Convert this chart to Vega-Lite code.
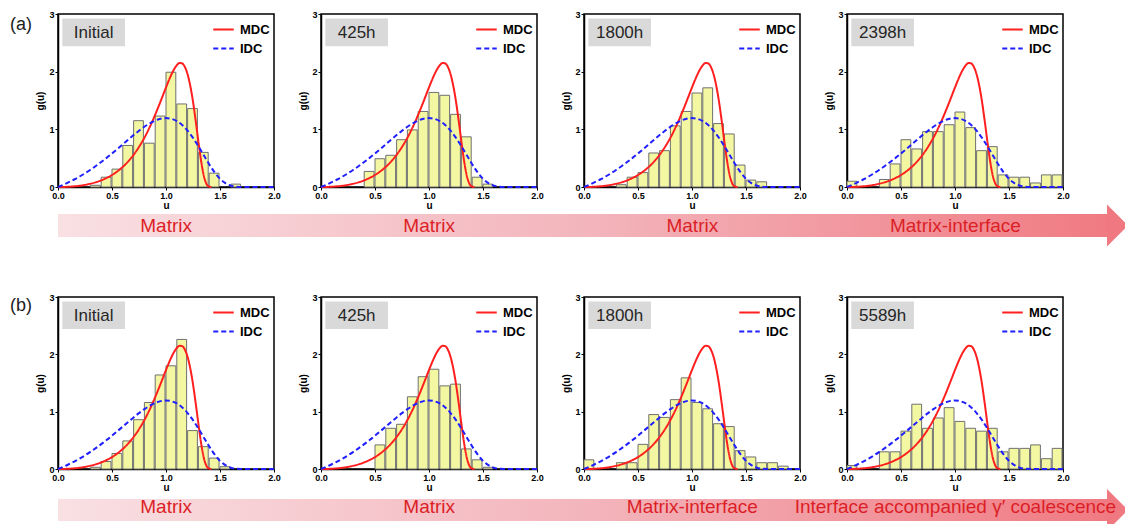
{
"$schema": "https://vega.github.io/schema/vega-lite/v6.json",
"padding": {"left": 9, "top": 9, "right": 0, "bottom": 0},
"background": "white",
"columns": 4,
"bounds": "flush",
"spacing": {"row": 110, "column": 47},
"resolve": {"scale": {"color": "independent", "strokeDash": "independent"}},
"datasets": {
"bars": [
{"p":"a1","u0":0.3,"u1":0.4,"g":0.03},{"p":"a1","u0":0.4,"u1":0.5,"g":0.17},{"p":"a1","u0":0.5,"u1":0.6,"g":0.31},{"p":"a1","u0":0.6,"u1":0.7,"g":0.72},{"p":"a1","u0":0.7,"u1":0.8,"g":1.15},{"p":"a1","u0":0.8,"u1":0.9,"g":0.76},{"p":"a1","u0":0.9,"u1":1.0,"g":1.23},{"p":"a1","u0":1.0,"u1":1.1,"g":1.99},{"p":"a1","u0":1.1,"u1":1.2,"g":1.44},{"p":"a1","u0":1.2,"u1":1.3,"g":1.36},{"p":"a1","u0":1.3,"u1":1.4,"g":0.60},{"p":"a1","u0":1.4,"u1":1.5,"g":0.24},{"p":"a1","u0":1.6,"u1":1.7,"g":0.05},
{"p":"a2","u0":0.4,"u1":0.5,"g":0.27},{"p":"a2","u0":0.5,"u1":0.6,"g":0.49},{"p":"a2","u0":0.6,"u1":0.7,"g":0.55},{"p":"a2","u0":0.7,"u1":0.8,"g":0.82},{"p":"a2","u0":0.8,"u1":0.9,"g":0.99},{"p":"a2","u0":0.9,"u1":1.0,"g":1.31},{"p":"a2","u0":1.0,"u1":1.1,"g":1.64},{"p":"a2","u0":1.1,"u1":1.2,"g":1.59},{"p":"a2","u0":1.2,"u1":1.3,"g":1.26},{"p":"a2","u0":1.3,"u1":1.4,"g":0.87},{"p":"a2","u0":1.4,"u1":1.5,"g":0.17},{"p":"a2","u0":1.5,"u1":1.6,"g":0.05},
{"p":"a3","u0":0.3,"u1":0.4,"g":0.04},{"p":"a3","u0":0.4,"u1":0.5,"g":0.17},{"p":"a3","u0":0.5,"u1":0.6,"g":0.25},{"p":"a3","u0":0.6,"u1":0.7,"g":0.59},{"p":"a3","u0":0.7,"u1":0.8,"g":0.63},{"p":"a3","u0":0.8,"u1":0.9,"g":1.06},{"p":"a3","u0":0.9,"u1":1.0,"g":1.31},{"p":"a3","u0":1.0,"u1":1.1,"g":1.63},{"p":"a3","u0":1.1,"u1":1.2,"g":1.72},{"p":"a3","u0":1.2,"u1":1.3,"g":1.10},{"p":"a3","u0":1.3,"u1":1.4,"g":0.92},{"p":"a3","u0":1.4,"u1":1.5,"g":0.38},{"p":"a3","u0":1.5,"u1":1.6,"g":0.12},{"p":"a3","u0":1.6,"u1":1.7,"g":0.09},
{"p":"a4","u0":0.0,"u1":0.1,"g":0.10},{"p":"a4","u0":0.3,"u1":0.4,"g":0.13},{"p":"a4","u0":0.4,"u1":0.5,"g":0.40},{"p":"a4","u0":0.5,"u1":0.6,"g":0.82},{"p":"a4","u0":0.6,"u1":0.7,"g":0.66},{"p":"a4","u0":0.7,"u1":0.8,"g":0.96},{"p":"a4","u0":0.8,"u1":0.9,"g":0.96},{"p":"a4","u0":0.9,"u1":1.0,"g":1.08},{"p":"a4","u0":1.0,"u1":1.1,"g":1.30},{"p":"a4","u0":1.1,"u1":1.2,"g":1.03},{"p":"a4","u0":1.2,"u1":1.3,"g":0.63},{"p":"a4","u0":1.3,"u1":1.4,"g":0.70},{"p":"a4","u0":1.4,"u1":1.5,"g":0.21},{"p":"a4","u0":1.5,"u1":1.6,"g":0.17},{"p":"a4","u0":1.6,"u1":1.7,"g":0.17},{"p":"a4","u0":1.7,"u1":1.8,"g":0.07},{"p":"a4","u0":1.8,"u1":1.9,"g":0.21},{"p":"a4","u0":1.9,"u1":2.0,"g":0.21},
{"p":"b1","u0":0.3,"u1":0.4,"g":0.03},{"p":"b1","u0":0.4,"u1":0.5,"g":0.13},{"p":"b1","u0":0.5,"u1":0.6,"g":0.27},{"p":"b1","u0":0.6,"u1":0.7,"g":0.49},{"p":"b1","u0":0.7,"u1":0.8,"g":0.86},{"p":"b1","u0":0.8,"u1":0.9,"g":1.16},{"p":"b1","u0":0.9,"u1":1.0,"g":1.64},{"p":"b1","u0":1.0,"u1":1.1,"g":1.80},{"p":"b1","u0":1.1,"u1":1.2,"g":2.26},{"p":"b1","u0":1.2,"u1":1.3,"g":0.67},{"p":"b1","u0":1.3,"u1":1.4,"g":0.39},{"p":"b1","u0":1.4,"u1":1.5,"g":0.19},{"p":"b1","u0":1.5,"u1":1.6,"g":0.04},
{"p":"b2","u0":0.5,"u1":0.6,"g":0.42},{"p":"b2","u0":0.6,"u1":0.7,"g":0.71},{"p":"b2","u0":0.7,"u1":0.8,"g":0.78},{"p":"b2","u0":0.8,"u1":0.9,"g":1.26},{"p":"b2","u0":0.9,"u1":1.0,"g":1.61},{"p":"b2","u0":1.0,"u1":1.1,"g":1.74},{"p":"b2","u0":1.1,"u1":1.2,"g":1.45},{"p":"b2","u0":1.2,"u1":1.3,"g":1.48},{"p":"b2","u0":1.3,"u1":1.4,"g":0.35},{"p":"b2","u0":1.4,"u1":1.5,"g":0.16},{"p":"b2","u0":1.5,"u1":1.6,"g":0.03},
{"p":"b3","u0":0.0,"u1":0.1,"g":0.16},{"p":"b3","u0":0.3,"u1":0.4,"g":0.11},{"p":"b3","u0":0.4,"u1":0.5,"g":0.11},{"p":"b3","u0":0.5,"u1":0.6,"g":0.43},{"p":"b3","u0":0.6,"u1":0.7,"g":0.95},{"p":"b3","u0":0.7,"u1":0.8,"g":0.90},{"p":"b3","u0":0.8,"u1":0.9,"g":1.21},{"p":"b3","u0":0.9,"u1":1.0,"g":1.59},{"p":"b3","u0":1.0,"u1":1.1,"g":1.16},{"p":"b3","u0":1.1,"u1":1.2,"g":1.05},{"p":"b3","u0":1.2,"u1":1.3,"g":0.79},{"p":"b3","u0":1.3,"u1":1.4,"g":0.74},{"p":"b3","u0":1.4,"u1":1.5,"g":0.32},{"p":"b3","u0":1.5,"u1":1.6,"g":0.21},{"p":"b3","u0":1.6,"u1":1.7,"g":0.11},{"p":"b3","u0":1.7,"u1":1.8,"g":0.11},{"p":"b3","u0":1.8,"u1":1.9,"g":0.05},
{"p":"b4","u0":0.0,"u1":0.1,"g":0.06},{"p":"b4","u0":0.3,"u1":0.4,"g":0.30},{"p":"b4","u0":0.4,"u1":0.5,"g":0.30},{"p":"b4","u0":0.5,"u1":0.6,"g":0.66},{"p":"b4","u0":0.6,"u1":0.7,"g":1.13},{"p":"b4","u0":0.7,"u1":0.8,"g":0.71},{"p":"b4","u0":0.8,"u1":0.9,"g":0.89},{"p":"b4","u0":0.9,"u1":1.0,"g":1.07},{"p":"b4","u0":1.0,"u1":1.1,"g":0.83},{"p":"b4","u0":1.1,"u1":1.2,"g":0.71},{"p":"b4","u0":1.2,"u1":1.3,"g":0.66},{"p":"b4","u0":1.3,"u1":1.4,"g":0.71},{"p":"b4","u0":1.4,"u1":1.5,"g":0.30},{"p":"b4","u0":1.5,"u1":1.6,"g":0.36},{"p":"b4","u0":1.6,"u1":1.7,"g":0.36},{"p":"b4","u0":1.7,"u1":1.8,"g":0.42},{"p":"b4","u0":1.8,"u1":1.9,"g":0.18},{"p":"b4","u0":1.9,"u1":2.0,"g":0.36}
],
"curves": [
{"curve":"MDC","u":0,"g":0},{"curve":"MDC","u":0.05,"g":0.001},{"curve":"MDC","u":0.1,"g":0.005},{"curve":"MDC","u":0.15,"g":0.012},{"curve":"MDC","u":0.2,"g":0.022},{"curve":"MDC","u":0.25,"g":0.037},{"curve":"MDC","u":0.3,"g":0.057},{"curve":"MDC","u":0.35,"g":0.082},{"curve":"MDC","u":0.4,"g":0.115},{"curve":"MDC","u":0.45,"g":0.157},{"curve":"MDC","u":0.5,"g":0.208},{"curve":"MDC","u":0.55,"g":0.272},{"curve":"MDC","u":0.6,"g":0.349},{"curve":"MDC","u":0.65,"g":0.444},{"curve":"MDC","u":0.7,"g":0.558},{"curve":"MDC","u":0.75,"g":0.694},{"curve":"MDC","u":0.8,"g":0.854},{"curve":"MDC","u":0.85,"g":1.041},{"curve":"MDC","u":0.9,"g":1.254},{"curve":"MDC","u":0.95,"g":1.486},{"curve":"MDC","u":1.0,"g":1.727},{"curve":"MDC","u":1.025,"g":1.843},{"curve":"MDC","u":1.05,"g":1.950},{"curve":"MDC","u":1.075,"g":2.042},{"curve":"MDC","u":1.1,"g":2.111},{"curve":"MDC","u":1.125,"g":2.149},{"curve":"MDC","u":1.15,"g":2.143},{"curve":"MDC","u":1.175,"g":2.081},{"curve":"MDC","u":1.2,"g":1.954},{"curve":"MDC","u":1.225,"g":1.752},{"curve":"MDC","u":1.25,"g":1.481},{"curve":"MDC","u":1.275,"g":1.147},{"curve":"MDC","u":1.3,"g":0.788},{"curve":"MDC","u":1.325,"g":0.452},{"curve":"MDC","u":1.35,"g":0.196},{"curve":"MDC","u":1.375,"g":0.053},{"curve":"MDC","u":1.4,"g":0.006},{"curve":"MDC","u":1.42,"g":0},
{"curve":"IDC","u":0,"g":0},{"curve":"IDC","u":0.05,"g":0.039},{"curve":"IDC","u":0.1,"g":0.083},{"curve":"IDC","u":0.15,"g":0.130},{"curve":"IDC","u":0.2,"g":0.182},{"curve":"IDC","u":0.25,"g":0.238},{"curve":"IDC","u":0.3,"g":0.299},{"curve":"IDC","u":0.35,"g":0.364},{"curve":"IDC","u":0.4,"g":0.433},{"curve":"IDC","u":0.45,"g":0.505},{"curve":"IDC","u":0.5,"g":0.581},{"curve":"IDC","u":0.55,"g":0.660},{"curve":"IDC","u":0.6,"g":0.740},{"curve":"IDC","u":0.65,"g":0.821},{"curve":"IDC","u":0.7,"g":0.900},{"curve":"IDC","u":0.75,"g":0.975},{"curve":"IDC","u":0.8,"g":1.044},{"curve":"IDC","u":0.85,"g":1.104},{"curve":"IDC","u":0.9,"g":1.152},{"curve":"IDC","u":0.95,"g":1.184},{"curve":"IDC","u":1.0,"g":1.195},{"curve":"IDC","u":1.05,"g":1.182},{"curve":"IDC","u":1.1,"g":1.143},{"curve":"IDC","u":1.15,"g":1.074},{"curve":"IDC","u":1.2,"g":0.976},{"curve":"IDC","u":1.25,"g":0.852},{"curve":"IDC","u":1.3,"g":0.706},{"curve":"IDC","u":1.35,"g":0.550},{"curve":"IDC","u":1.4,"g":0.394},{"curve":"IDC","u":1.45,"g":0.254},{"curve":"IDC","u":1.5,"g":0.142},{"curve":"IDC","u":1.55,"g":0.066},{"curve":"IDC","u":1.6,"g":0.023},{"curve":"IDC","u":1.65,"g":0.005},{"curve":"IDC","u":1.7,"g":0.001},{"curve":"IDC","u":1.8,"g":0},{"curve":"IDC","u":1.9,"g":0},{"curve":"IDC","u":2.0,"g":0}
],
"labels": [
{"p":"a1","label":"Initial","tag":"(a)"},{"p":"a2","label":"425h"},{"p":"a3","label":"1800h"},{"p":"a4","label":"2398h"},
{"p":"b1","label":"Initial","tag":"(b)"},{"p":"b2","label":"425h"},{"p":"b3","label":"1800h"},{"p":"b4","label":"5589h"}
],
"arrows": [{"row":"a"},{"row":"b"}],
"stages": [
{"row":"a","stage":1,"label":"Matrix"},{"row":"a","stage":2,"label":"Matrix"},{"row":"a","stage":3,"label":"Matrix"},{"row":"a","stage":4,"label":"Matrix-interface"},
{"row":"b","stage":1,"label":"Matrix"},{"row":"b","stage":2,"label":"Matrix"},{"row":"b","stage":3,"label":"Matrix-interface"},{"row":"b","stage":4,"label":"Interface accompanied γ′ coalescence"}
]
},
"concat": [
{"width":216,"height":173,"resolve":{"scale":{"x":"independent","y":"independent"}},"layer":[
{"layer":[
{"data":{"name":"bars"},"transform":[{"filter":"datum.p==='a1'"}],"mark":{"type":"rect","fill":"#f3f7a2","stroke":"#707070","strokeWidth":1,"x2Offset":-1},"encoding":{"x":{"field":"u0","type":"quantitative","scale":{"domain":[0,2],"nice":false},"axis":{"values":[0,0.5,1,1.5,2],"format":".1f","title":"u"}},"x2":{"field":"u1"},"y":{"field":"g","type":"quantitative","scale":{"domain":[0,3],"nice":false},"axis":{"values":[0,1,2,3],"format":"d","title":"g(u)"}},"y2":{"datum":0}}},
{"data":{"name":"curves"},"mark":{"type":"line","strokeWidth":2,"interpolate":"monotone"},"encoding":{"x":{"field":"u","type":"quantitative","scale":{"domain":[0,2],"nice":false}},"y":{"field":"g","type":"quantitative","scale":{"domain":[0,3],"nice":false}},"color":{"field":"curve","type":"nominal","scale":{"domain":["MDC","IDC"],"range":["#ff1f1f","#1f1fff"]},"title":null},"strokeDash":{"field":"curve","type":"nominal","scale":{"domain":["MDC","IDC"],"range":[[1,0],[5,3]]},"title":null}}},
{"data":{"name":"labels"},"transform":[{"filter":"datum.p==='a1'"}],"mark":{"type":"rect","fill":"#d9d9d9"},"encoding":{"x":{"datum":0.04},"x2":{"datum":0.62},"y":{"datum":2.92},"y2":{"datum":2.44}}},
{"data":{"name":"labels"},"transform":[{"filter":"datum.p==='a1'"}],"mark":{"type":"text","fontSize":17,"color":"#262626"},"encoding":{"x":{"datum":0.33},"y":{"datum":2.67},"text":{"field":"label"}}},
{"data":{"name":"labels"},"transform":[{"filter":"datum.p==='a1'"}],"mark":{"type":"text","fontSize":18,"color":"#222222"},"encoding":{"x":{"datum":-0.343},"y":{"datum":2.81},"text":{"field":"tag"}}}
]},
{"layer":[
{"data":{"name":"arrows"},"transform":[{"filter":"datum.row==='a'"}],"mark":{"type":"rect","fill":{"gradient":"linear","x1":0,"y1":0,"x2":1,"y2":0,"stops":[{"offset":0,"color":"#f9e0e3"},{"offset":0.5,"color":"#f3b5bc"},{"offset":1,"color":"#f07a82"}]}},"encoding":{"x":{"datum":0.589,"scale":{"domain":[0.589,1.41],"nice":false,"zero":false},"axis":null},"x2":{"datum":4.585},"y":{"datum":200,"scale":{"domain":[0,173],"reverse":true,"nice":false,"zero":false},"axis":null},"y2":{"datum":223}}},
{"data":{"name":"arrows"},"transform":[{"filter":"datum.row==='a'"}],"mark":{"type":"point","shape":"M -0.5 -1 L 0.5 0 L -0.5 1 Z","size":1764,"filled":true,"fill":"#f07880","strokeWidth":0,"opacity":1},"encoding":{"x":{"datum":4.616,"scale":{"domain":[0.589,1.41],"nice":false,"zero":false},"axis":null},"y":{"datum":211.5,"scale":{"domain":[0,173],"reverse":true,"nice":false,"zero":false},"axis":null}}},
{"data":{"name":"stages"},"transform":[{"filter":"datum.row==='a'"}],"mark":{"type":"text","fontSize":19,"color":"#dc1f26","baseline":"alphabetic"},"encoding":{"x":{"field":"stage","type":"quantitative","scale":{"domain":[0.589,1.41],"nice":false,"zero":false},"axis":null},"y":{"datum":218,"scale":{"domain":[0,173],"reverse":true,"nice":false,"zero":false},"axis":null},"text":{"field":"label"}}}
]}
]},
{"width":216,"height":173,"layer":[
{"data":{"name":"bars"},"transform":[{"filter":"datum.p==='a2'"}],"mark":{"type":"rect","fill":"#f3f7a2","stroke":"#707070","strokeWidth":1,"x2Offset":-1},"encoding":{"x":{"field":"u0","type":"quantitative","scale":{"domain":[0,2],"nice":false},"axis":{"values":[0,0.5,1,1.5,2],"format":".1f","title":"u"}},"x2":{"field":"u1"},"y":{"field":"g","type":"quantitative","scale":{"domain":[0,3],"nice":false},"axis":{"values":[0,1,2,3],"format":"d","title":"g(u)"}},"y2":{"datum":0}}},
{"data":{"name":"curves"},"mark":{"type":"line","strokeWidth":2,"interpolate":"monotone"},"encoding":{"x":{"field":"u","type":"quantitative","scale":{"domain":[0,2],"nice":false}},"y":{"field":"g","type":"quantitative","scale":{"domain":[0,3],"nice":false}},"color":{"field":"curve","type":"nominal","scale":{"domain":["MDC","IDC"],"range":["#ff1f1f","#1f1fff"]},"title":null},"strokeDash":{"field":"curve","type":"nominal","scale":{"domain":["MDC","IDC"],"range":[[1,0],[5,3]]},"title":null}}},
{"data":{"name":"labels"},"transform":[{"filter":"datum.p==='a2'"}],"mark":{"type":"rect","fill":"#d9d9d9"},"encoding":{"x":{"datum":0.04},"x2":{"datum":0.62},"y":{"datum":2.92},"y2":{"datum":2.44}}},
{"data":{"name":"labels"},"transform":[{"filter":"datum.p==='a2'"}],"mark":{"type":"text","fontSize":17,"color":"#262626"},"encoding":{"x":{"datum":0.33},"y":{"datum":2.67},"text":{"field":"label"}}}
]},
{"width":216,"height":173,"layer":[
{"data":{"name":"bars"},"transform":[{"filter":"datum.p==='a3'"}],"mark":{"type":"rect","fill":"#f3f7a2","stroke":"#707070","strokeWidth":1,"x2Offset":-1},"encoding":{"x":{"field":"u0","type":"quantitative","scale":{"domain":[0,2],"nice":false},"axis":{"values":[0,0.5,1,1.5,2],"format":".1f","title":"u"}},"x2":{"field":"u1"},"y":{"field":"g","type":"quantitative","scale":{"domain":[0,3],"nice":false},"axis":{"values":[0,1,2,3],"format":"d","title":"g(u)"}},"y2":{"datum":0}}},
{"data":{"name":"curves"},"mark":{"type":"line","strokeWidth":2,"interpolate":"monotone"},"encoding":{"x":{"field":"u","type":"quantitative","scale":{"domain":[0,2],"nice":false}},"y":{"field":"g","type":"quantitative","scale":{"domain":[0,3],"nice":false}},"color":{"field":"curve","type":"nominal","scale":{"domain":["MDC","IDC"],"range":["#ff1f1f","#1f1fff"]},"title":null},"strokeDash":{"field":"curve","type":"nominal","scale":{"domain":["MDC","IDC"],"range":[[1,0],[5,3]]},"title":null}}},
{"data":{"name":"labels"},"transform":[{"filter":"datum.p==='a3'"}],"mark":{"type":"rect","fill":"#d9d9d9"},"encoding":{"x":{"datum":0.04},"x2":{"datum":0.62},"y":{"datum":2.92},"y2":{"datum":2.44}}},
{"data":{"name":"labels"},"transform":[{"filter":"datum.p==='a3'"}],"mark":{"type":"text","fontSize":17,"color":"#262626"},"encoding":{"x":{"datum":0.33},"y":{"datum":2.67},"text":{"field":"label"}}}
]},
{"width":216,"height":173,"layer":[
{"data":{"name":"bars"},"transform":[{"filter":"datum.p==='a4'"}],"mark":{"type":"rect","fill":"#f3f7a2","stroke":"#707070","strokeWidth":1,"x2Offset":-1},"encoding":{"x":{"field":"u0","type":"quantitative","scale":{"domain":[0,2],"nice":false},"axis":{"values":[0,0.5,1,1.5,2],"format":".1f","title":"u"}},"x2":{"field":"u1"},"y":{"field":"g","type":"quantitative","scale":{"domain":[0,3],"nice":false},"axis":{"values":[0,1,2,3],"format":"d","title":"g(u)"}},"y2":{"datum":0}}},
{"data":{"name":"curves"},"mark":{"type":"line","strokeWidth":2,"interpolate":"monotone"},"encoding":{"x":{"field":"u","type":"quantitative","scale":{"domain":[0,2],"nice":false}},"y":{"field":"g","type":"quantitative","scale":{"domain":[0,3],"nice":false}},"color":{"field":"curve","type":"nominal","scale":{"domain":["MDC","IDC"],"range":["#ff1f1f","#1f1fff"]},"title":null},"strokeDash":{"field":"curve","type":"nominal","scale":{"domain":["MDC","IDC"],"range":[[1,0],[5,3]]},"title":null}}},
{"data":{"name":"labels"},"transform":[{"filter":"datum.p==='a4'"}],"mark":{"type":"rect","fill":"#d9d9d9"},"encoding":{"x":{"datum":0.04},"x2":{"datum":0.62},"y":{"datum":2.92},"y2":{"datum":2.44}}},
{"data":{"name":"labels"},"transform":[{"filter":"datum.p==='a4'"}],"mark":{"type":"text","fontSize":17,"color":"#262626"},"encoding":{"x":{"datum":0.33},"y":{"datum":2.67},"text":{"field":"label"}}}
]},
{"width":216,"height":172,"resolve":{"scale":{"x":"independent","y":"independent"}},"layer":[
{"layer":[
{"data":{"name":"bars"},"transform":[{"filter":"datum.p==='b1'"}],"mark":{"type":"rect","fill":"#f3f7a2","stroke":"#707070","strokeWidth":1,"x2Offset":-1},"encoding":{"x":{"field":"u0","type":"quantitative","scale":{"domain":[0,2],"nice":false},"axis":{"values":[0,0.5,1,1.5,2],"format":".1f","title":"u"}},"x2":{"field":"u1"},"y":{"field":"g","type":"quantitative","scale":{"domain":[0,3],"nice":false},"axis":{"values":[0,1,2,3],"format":"d","title":"g(u)"}},"y2":{"datum":0}}},
{"data":{"name":"curves"},"mark":{"type":"line","strokeWidth":2,"interpolate":"monotone"},"encoding":{"x":{"field":"u","type":"quantitative","scale":{"domain":[0,2],"nice":false}},"y":{"field":"g","type":"quantitative","scale":{"domain":[0,3],"nice":false}},"color":{"field":"curve","type":"nominal","scale":{"domain":["MDC","IDC"],"range":["#ff1f1f","#1f1fff"]},"title":null},"strokeDash":{"field":"curve","type":"nominal","scale":{"domain":["MDC","IDC"],"range":[[1,0],[5,3]]},"title":null}}},
{"data":{"name":"labels"},"transform":[{"filter":"datum.p==='b1'"}],"mark":{"type":"rect","fill":"#d9d9d9"},"encoding":{"x":{"datum":0.04},"x2":{"datum":0.62},"y":{"datum":2.92},"y2":{"datum":2.44}}},
{"data":{"name":"labels"},"transform":[{"filter":"datum.p==='b1'"}],"mark":{"type":"text","fontSize":17,"color":"#262626"},"encoding":{"x":{"datum":0.33},"y":{"datum":2.67},"text":{"field":"label"}}},
{"data":{"name":"labels"},"transform":[{"filter":"datum.p==='b1'"}],"mark":{"type":"text","fontSize":18,"color":"#222222"},"encoding":{"x":{"datum":-0.343},"y":{"datum":2.84},"text":{"field":"tag"}}}
]},
{"layer":[
{"data":{"name":"arrows"},"transform":[{"filter":"datum.row==='b'"}],"mark":{"type":"rect","fill":{"gradient":"linear","x1":0,"y1":0,"x2":1,"y2":0,"stops":[{"offset":0,"color":"#f9e0e3"},{"offset":0.5,"color":"#f3b5bc"},{"offset":1,"color":"#f07a82"}]}},"encoding":{"x":{"datum":0.589,"scale":{"domain":[0.589,1.41],"nice":false,"zero":false},"axis":null},"x2":{"datum":4.585},"y":{"datum":202,"scale":{"domain":[0,172],"reverse":true,"nice":false,"zero":false},"axis":null},"y2":{"datum":224}}},
{"data":{"name":"arrows"},"transform":[{"filter":"datum.row==='b'"}],"mark":{"type":"point","shape":"M -0.5 -1 L 0.5 0 L -0.5 1 Z","size":1764,"filled":true,"fill":"#f07880","strokeWidth":0,"opacity":1},"encoding":{"x":{"datum":4.616,"scale":{"domain":[0.589,1.41],"nice":false,"zero":false},"axis":null},"y":{"datum":213,"scale":{"domain":[0,172],"reverse":true,"nice":false,"zero":false},"axis":null}}},
{"data":{"name":"stages"},"transform":[{"filter":"datum.row==='b'"}],"mark":{"type":"text","fontSize":19,"color":"#dc1f26","baseline":"alphabetic"},"encoding":{"x":{"field":"stage","type":"quantitative","scale":{"domain":[0.589,1.41],"nice":false,"zero":false},"axis":null},"y":{"datum":216,"scale":{"domain":[0,172],"reverse":true,"nice":false,"zero":false},"axis":null},"text":{"field":"label"}}}
]}
]},
{"width":216,"height":172,"layer":[
{"data":{"name":"bars"},"transform":[{"filter":"datum.p==='b2'"}],"mark":{"type":"rect","fill":"#f3f7a2","stroke":"#707070","strokeWidth":1,"x2Offset":-1},"encoding":{"x":{"field":"u0","type":"quantitative","scale":{"domain":[0,2],"nice":false},"axis":{"values":[0,0.5,1,1.5,2],"format":".1f","title":"u"}},"x2":{"field":"u1"},"y":{"field":"g","type":"quantitative","scale":{"domain":[0,3],"nice":false},"axis":{"values":[0,1,2,3],"format":"d","title":"g(u)"}},"y2":{"datum":0}}},
{"data":{"name":"curves"},"mark":{"type":"line","strokeWidth":2,"interpolate":"monotone"},"encoding":{"x":{"field":"u","type":"quantitative","scale":{"domain":[0,2],"nice":false}},"y":{"field":"g","type":"quantitative","scale":{"domain":[0,3],"nice":false}},"color":{"field":"curve","type":"nominal","scale":{"domain":["MDC","IDC"],"range":["#ff1f1f","#1f1fff"]},"title":null},"strokeDash":{"field":"curve","type":"nominal","scale":{"domain":["MDC","IDC"],"range":[[1,0],[5,3]]},"title":null}}},
{"data":{"name":"labels"},"transform":[{"filter":"datum.p==='b2'"}],"mark":{"type":"rect","fill":"#d9d9d9"},"encoding":{"x":{"datum":0.04},"x2":{"datum":0.62},"y":{"datum":2.92},"y2":{"datum":2.44}}},
{"data":{"name":"labels"},"transform":[{"filter":"datum.p==='b2'"}],"mark":{"type":"text","fontSize":17,"color":"#262626"},"encoding":{"x":{"datum":0.33},"y":{"datum":2.67},"text":{"field":"label"}}}
]},
{"width":216,"height":172,"layer":[
{"data":{"name":"bars"},"transform":[{"filter":"datum.p==='b3'"}],"mark":{"type":"rect","fill":"#f3f7a2","stroke":"#707070","strokeWidth":1,"x2Offset":-1},"encoding":{"x":{"field":"u0","type":"quantitative","scale":{"domain":[0,2],"nice":false},"axis":{"values":[0,0.5,1,1.5,2],"format":".1f","title":"u"}},"x2":{"field":"u1"},"y":{"field":"g","type":"quantitative","scale":{"domain":[0,3],"nice":false},"axis":{"values":[0,1,2,3],"format":"d","title":"g(u)"}},"y2":{"datum":0}}},
{"data":{"name":"curves"},"mark":{"type":"line","strokeWidth":2,"interpolate":"monotone"},"encoding":{"x":{"field":"u","type":"quantitative","scale":{"domain":[0,2],"nice":false}},"y":{"field":"g","type":"quantitative","scale":{"domain":[0,3],"nice":false}},"color":{"field":"curve","type":"nominal","scale":{"domain":["MDC","IDC"],"range":["#ff1f1f","#1f1fff"]},"title":null},"strokeDash":{"field":"curve","type":"nominal","scale":{"domain":["MDC","IDC"],"range":[[1,0],[5,3]]},"title":null}}},
{"data":{"name":"labels"},"transform":[{"filter":"datum.p==='b3'"}],"mark":{"type":"rect","fill":"#d9d9d9"},"encoding":{"x":{"datum":0.04},"x2":{"datum":0.62},"y":{"datum":2.92},"y2":{"datum":2.44}}},
{"data":{"name":"labels"},"transform":[{"filter":"datum.p==='b3'"}],"mark":{"type":"text","fontSize":17,"color":"#262626"},"encoding":{"x":{"datum":0.33},"y":{"datum":2.67},"text":{"field":"label"}}}
]},
{"width":216,"height":172,"layer":[
{"data":{"name":"bars"},"transform":[{"filter":"datum.p==='b4'"}],"mark":{"type":"rect","fill":"#f3f7a2","stroke":"#707070","strokeWidth":1,"x2Offset":-1},"encoding":{"x":{"field":"u0","type":"quantitative","scale":{"domain":[0,2],"nice":false},"axis":{"values":[0,0.5,1,1.5,2],"format":".1f","title":"u"}},"x2":{"field":"u1"},"y":{"field":"g","type":"quantitative","scale":{"domain":[0,3],"nice":false},"axis":{"values":[0,1,2,3],"format":"d","title":"g(u)"}},"y2":{"datum":0}}},
{"data":{"name":"curves"},"mark":{"type":"line","strokeWidth":2,"interpolate":"monotone"},"encoding":{"x":{"field":"u","type":"quantitative","scale":{"domain":[0,2],"nice":false}},"y":{"field":"g","type":"quantitative","scale":{"domain":[0,3],"nice":false}},"color":{"field":"curve","type":"nominal","scale":{"domain":["MDC","IDC"],"range":["#ff1f1f","#1f1fff"]},"title":null},"strokeDash":{"field":"curve","type":"nominal","scale":{"domain":["MDC","IDC"],"range":[[1,0],[5,3]]},"title":null}}},
{"data":{"name":"labels"},"transform":[{"filter":"datum.p==='b4'"}],"mark":{"type":"rect","fill":"#d9d9d9"},"encoding":{"x":{"datum":0.04},"x2":{"datum":0.62},"y":{"datum":2.92},"y2":{"datum":2.44}}},
{"data":{"name":"labels"},"transform":[{"filter":"datum.p==='b4'"}],"mark":{"type":"text","fontSize":17,"color":"#262626"},"encoding":{"x":{"datum":0.33},"y":{"datum":2.67},"text":{"field":"label"}}}
]}
],
"config": {
"font": "Liberation Sans",
"view": {"stroke": "black", "strokeWidth": 1.5},
"axis": {"labelFont": "Liberation Sans", "titleFont": "Liberation Sans", "labelFontWeight": "bold", "titleFontWeight": "bold", "labelFontSize": 9, "titleFontSize": 10, "labelColor": "black", "titleColor": "black", "domainColor": "black", "domainWidth": 1.5, "tickColor": "black", "tickSize": 3, "grid": false, "labelPadding": 1, "labelFlush": false, "labelOverlap": false},
"axisX": {"titlePadding": 0},
"axisY": {"titlePadding": 3},
"legend": {"orient": "top-right", "offset": 4, "padding": 0, "labelFont": "Liberation Sans", "labelFontSize": 13, "labelFontWeight": "bold", "labelColor": "black", "symbolType": "stroke", "symbolSize": 420, "symbolStrokeWidth": 2, "rowPadding": 0, "labelOffset": 5}
}
}
